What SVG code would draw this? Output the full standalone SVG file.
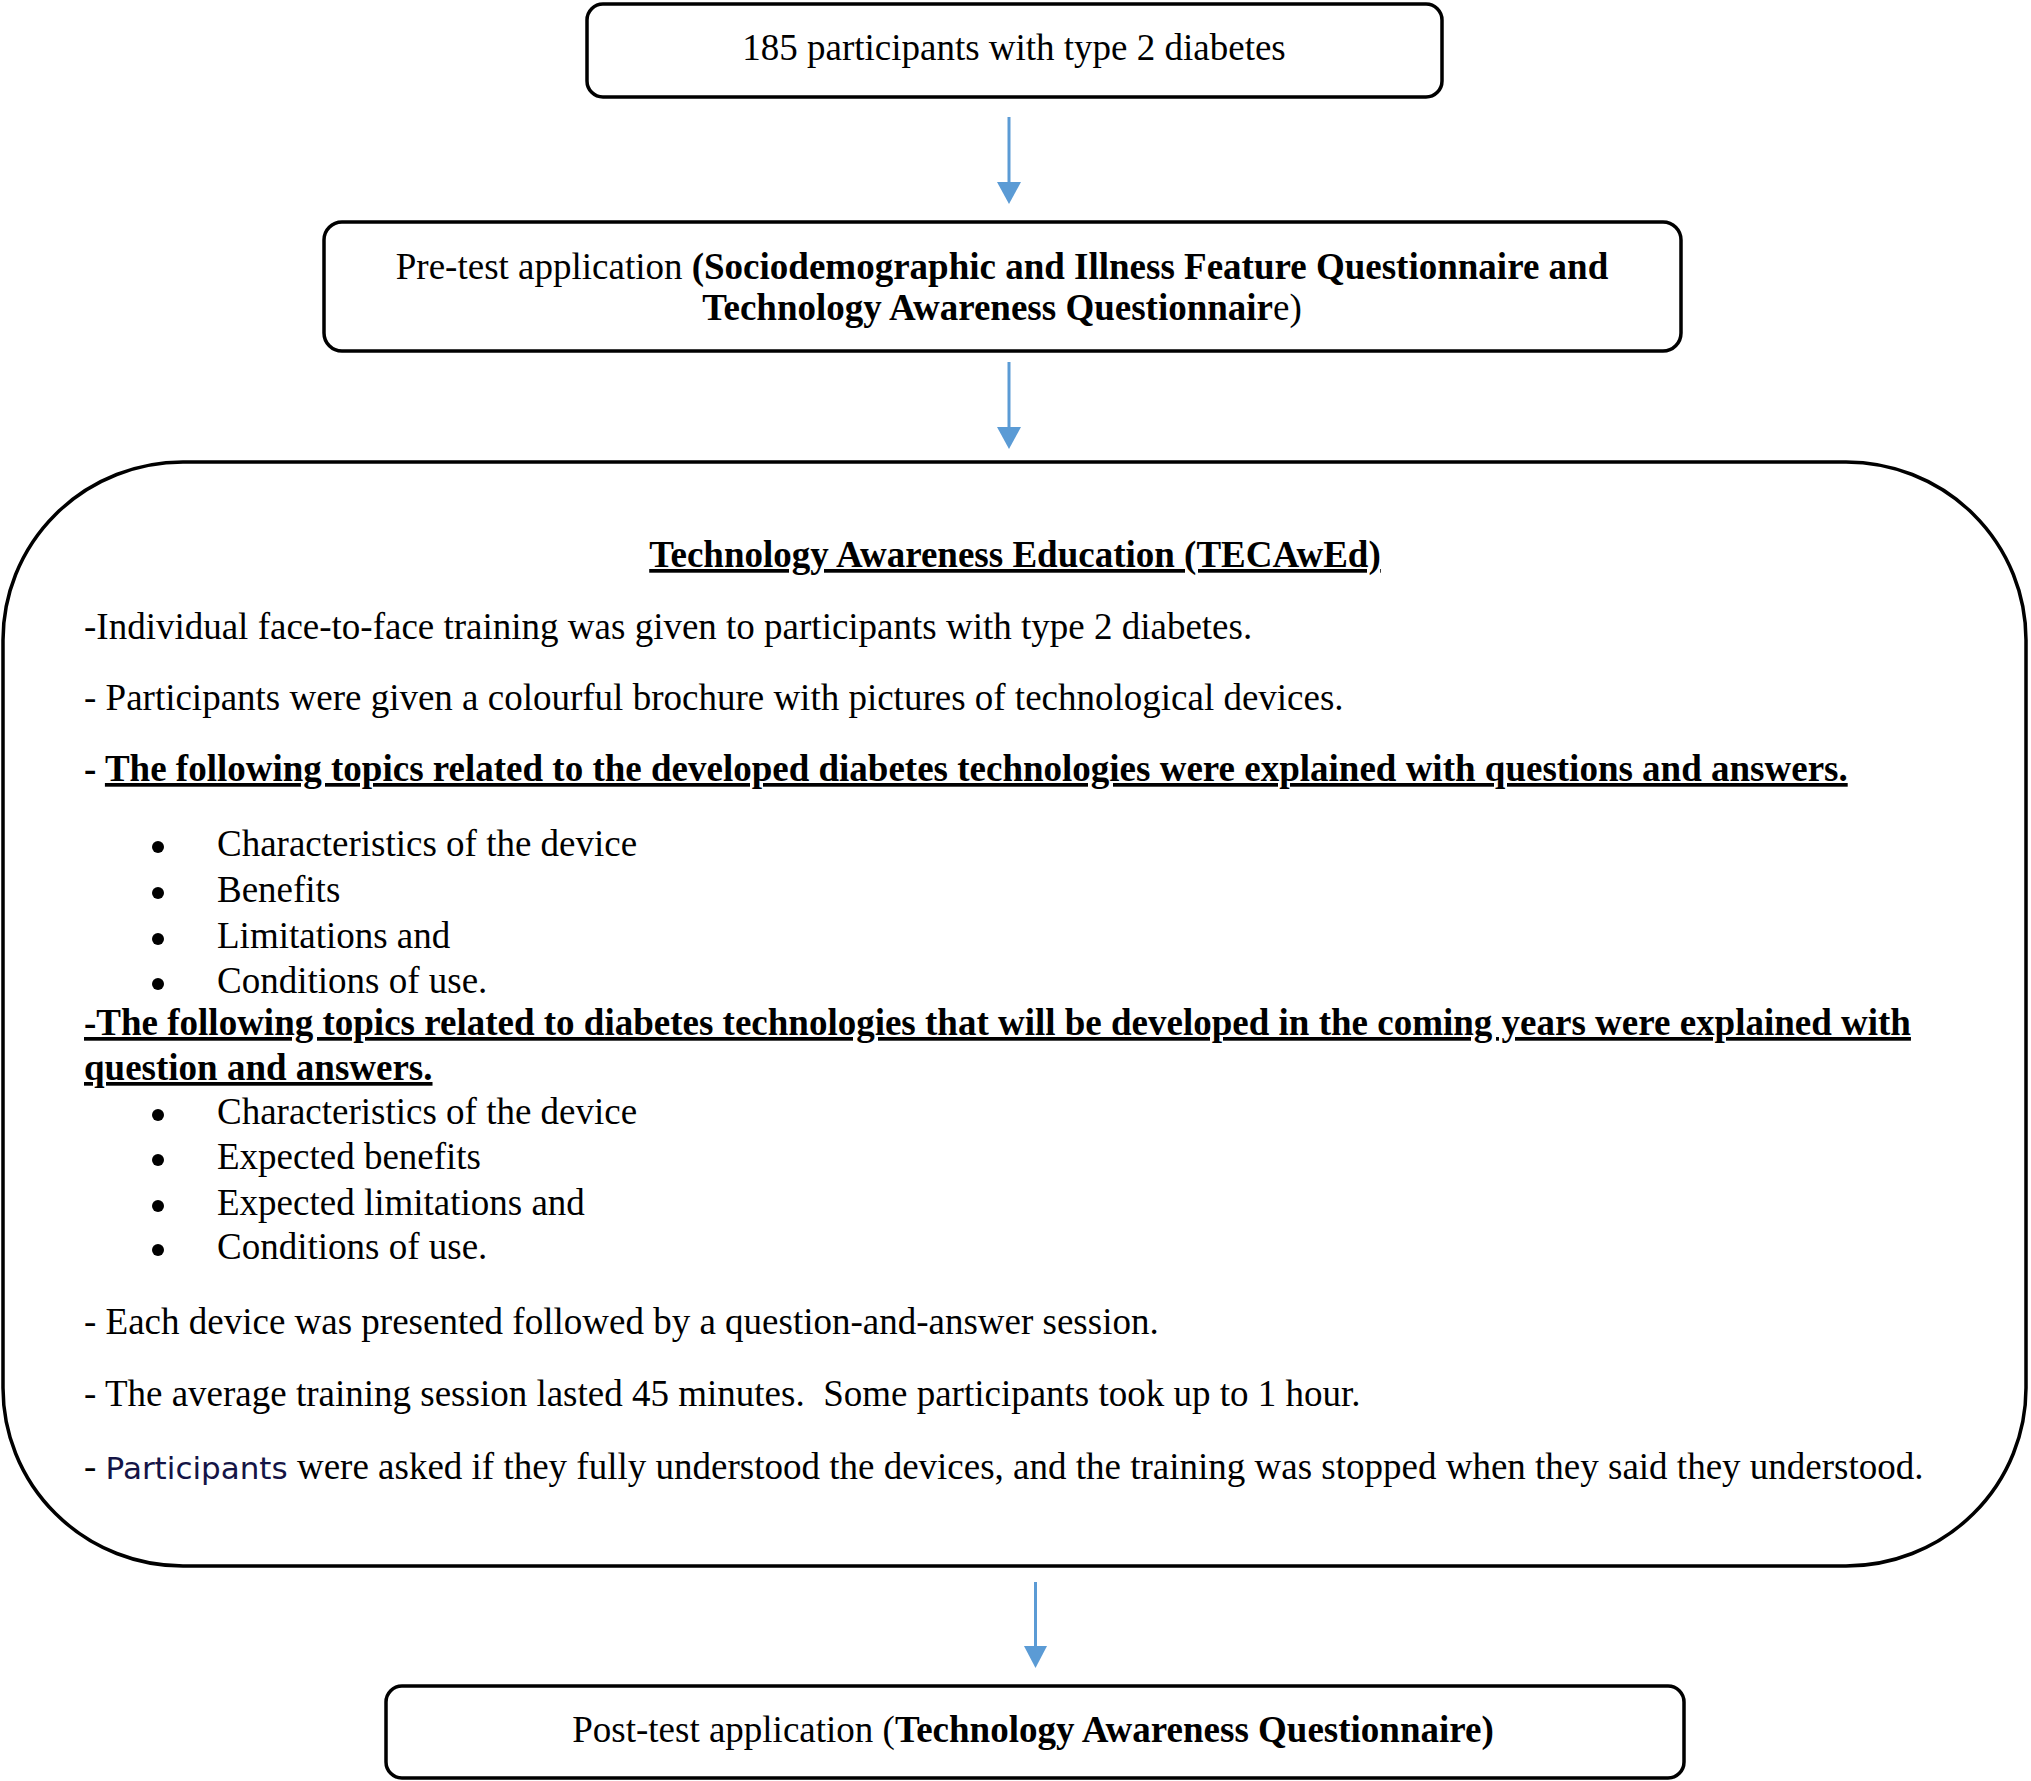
<svg xmlns="http://www.w3.org/2000/svg" width="2031" height="1781" viewBox="0 0 2031 1781">
<defs>
<style>
.t{font-family:"Liberation Serif","Times New Roman",serif;font-size:37px;fill:#000}
.b{font-weight:bold}
.u{text-decoration:underline}
.box{fill:#fff;stroke:#000;stroke-width:3.5}
.con{stroke:#5B9BD5;stroke-width:3;fill:none}
.head{fill:#5B9BD5}
.sans{font-family:"DejaVu Sans",Verdana,sans-serif;font-size:31px;fill:#141446}
</style>
</defs>
<rect width="2031" height="1781" fill="#fff"/>
<g id="connectors">
<line class="con" x1="1009" y1="117" x2="1009" y2="184"/>
<polygon class="head" points="997,182 1021,182 1009,204"/>
<line class="con" x1="1009" y1="362" x2="1009" y2="429"/>
<polygon class="head" points="997,427 1021,427 1009,449"/>
<line class="con" x1="1035.5" y1="1582" x2="1035.5" y2="1648"/>
<polygon class="head" points="1024,1646 1047,1646 1035.5,1668"/>
</g>
<g id="node-participants">
<rect class="box" x="587" y="4" width="855" height="93" rx="16" ry="16"/>
<text class="t" x="1014" y="60" text-anchor="middle">185 participants with type 2 diabetes</text>
</g>
<g id="node-pretest">
<rect class="box" x="324" y="222" width="1357" height="129" rx="18" ry="18"/>
<text class="t" x="1002" y="279" text-anchor="middle">Pre-test application <tspan class="b">(Sociodemographic and Illness Feature Questionnaire and</tspan></text>
<text class="t" x="1002" y="320" text-anchor="middle"><tspan class="b">Technology Awareness Questionnair</tspan>e)</text>
</g>
<g id="node-education">
<rect class="box" x="3" y="462" width="2023" height="1104" rx="180" ry="178"/>
<text class="t b u" x="1015" y="567" text-anchor="middle">Technology Awareness Education (TECAwEd)</text>
<text class="t" x="84" y="639">-Individual face-to-face training was given to participants with type 2 diabetes.</text>
<text class="t" x="84" y="710">- Participants were given a colourful brochure with pictures of technological devices.</text>
<text class="t b" x="84" y="781">- <tspan class="u">The following topics related to the developed diabetes technologies were explained with questions and answers.</tspan></text>
<circle cx="158" cy="847" r="6"/>
<circle cx="158" cy="893" r="6"/>
<circle cx="158" cy="939" r="6"/>
<circle cx="158" cy="984" r="6"/>
<text class="t" x="217" y="856">Characteristics of the device</text>
<text class="t" x="217" y="902">Benefits</text>
<text class="t" x="217" y="948">Limitations and</text>
<text class="t" x="217" y="993">Conditions of use.</text>
<text class="t b u" x="84" y="1035">-The following topics related to diabetes technologies that will be developed in the coming years were explained with</text>
<text class="t b u" x="84" y="1080">question and answers.</text>
<circle cx="158" cy="1115" r="6"/>
<circle cx="158" cy="1160" r="6"/>
<circle cx="158" cy="1206" r="6"/>
<circle cx="158" cy="1250" r="6"/>
<text class="t" x="217" y="1124">Characteristics of the device</text>
<text class="t" x="217" y="1169">Expected benefits</text>
<text class="t" x="217" y="1215">Expected limitations and</text>
<text class="t" x="217" y="1259">Conditions of use.</text>
<text class="t" x="84" y="1334">- Each device was presented followed by a question-and-answer session.</text>
<text class="t" x="84" y="1406" xml:space="preserve">- The average training session lasted 45 minutes.  Some participants took up to 1 hour.</text>
<text class="t" x="84" y="1479" xml:space="preserve">- <tspan class="sans">Participants</tspan> were asked if they fully understood the devices, and the training was stopped when they said they understood.</text>
</g>
<g id="node-posttest">
<rect class="box" x="386" y="1686" width="1298" height="92" rx="16" ry="16"/>
<text class="t" x="1033" y="1742" text-anchor="middle">Post-test application (<tspan class="b">Technology Awareness Questionnaire)</tspan></text>
</g>
</svg>
